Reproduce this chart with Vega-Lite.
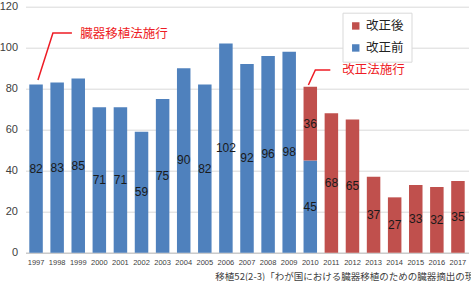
{
  "$schema": "https://vega.github.io/schema/vega-lite/v6.json",
  "width": 443,
  "height": 246,
  "autosize": {"type": "none"},
  "padding": {"left": 25.5, "top": 6.7, "right": 2.5, "bottom": 28.3},
  "config": {
    "view": {"stroke": null},
    "font": "Liberation Sans"
  },
  "resolve": {"scale": {"x": "independent"}, "axis": {"x": "independent"}},
  "datasets": {
    "bars": [
      {"year": 1997, "type": "改正前", "v": 82},
      {"year": 1998, "type": "改正前", "v": 83},
      {"year": 1999, "type": "改正前", "v": 85},
      {"year": 2000, "type": "改正前", "v": 71},
      {"year": 2001, "type": "改正前", "v": 71},
      {"year": 2002, "type": "改正前", "v": 59},
      {"year": 2003, "type": "改正前", "v": 75},
      {"year": 2004, "type": "改正前", "v": 90},
      {"year": 2005, "type": "改正前", "v": 82},
      {"year": 2006, "type": "改正前", "v": 102},
      {"year": 2007, "type": "改正前", "v": 92},
      {"year": 2008, "type": "改正前", "v": 96},
      {"year": 2009, "type": "改正前", "v": 98},
      {"year": 2010, "type": "改正前", "v": 45},
      {"year": 2010, "type": "改正後", "v": 36},
      {"year": 2011, "type": "改正後", "v": 68},
      {"year": 2012, "type": "改正後", "v": 65},
      {"year": 2013, "type": "改正後", "v": 37},
      {"year": 2014, "type": "改正後", "v": 27},
      {"year": 2015, "type": "改正後", "v": 33},
      {"year": 2016, "type": "改正後", "v": 32},
      {"year": 2017, "type": "改正後", "v": 35}
    ],
    "lines": [
      {"g": "a", "year": 1997.09, "val": 84.2},
      {"g": "a", "year": 1997.8, "val": 107.2},
      {"g": "a", "year": 1998.7, "val": 107.2},
      {"g": "b", "year": 2009.91, "val": 81.8},
      {"g": "b", "year": 2010.24, "val": 89.1},
      {"g": "b", "year": 2010.95, "val": 89.1}
    ],
    "notes": [
      {"year": 1999.09, "val": 106.9, "label": "臓器移植法施行"},
      {"year": 2011.52, "val": 89.1, "label": "改正法施行"}
    ],
    "source": [
      {"year": 2005.5, "val": -9.2, "label": "移植52(2-3)「わが国における臓器移植のための臓器摘出の現状と実績(2017)」"}
    ]
  },
  "layer": [
    {
      "data": {"name": "bars"},
      "transform": [
        {"stack": "v", "groupby": ["year"], "sort": [{"field": "type", "order": "ascending"}], "as": ["v0", "v1"]}
      ],
      "mark": {"type": "bar"},
      "encoding": {
        "x": {
          "field": "year", "type": "ordinal",
          "scale": {"paddingInner": 0.36, "paddingOuter": 0.18},
          "axis": {
            "title": null, "labelAngle": 0, "grid": false, "ticks": false, "domainColor": "#bfbfbf",
            "labelFontSize": 7.5, "labelColor": "#404040", "labelPadding": 6, "labelOverlap": false
          }
        },
        "y": {
          "field": "v0", "type": "quantitative",
          "scale": {"domain": [0, 120], "nice": false},
          "axis": {
            "title": null, "values": [0, 20, 40, 60, 80, 100, 120], "domain": false, "ticks": false,
            "gridColor": "#d9d9d9", "labelFontSize": 11, "labelColor": "#404040", "labelPadding": 8
          }
        },
        "y2": {"field": "v1"},
        "color": {
          "field": "type", "type": "nominal",
          "scale": {"domain": ["改正後", "改正前"], "range": ["#c0504d", "#4f81bd"]},
          "legend": {
            "title": null, "orient": "none", "legendX": 317, "legendY": 6,
            "strokeColor": "#d9d9d9", "fillColor": "#ffffff", "padding": 7, "rowPadding": 9,
            "symbolType": "square", "symbolSize": 55, "symbolStrokeWidth": 0,
            "labelFont": "Noto Sans CJK JP", "labelFontSize": 12.5, "labelColor": "#222222"
          }
        }
      }
    },
    {
      "data": {"name": "bars"},
      "transform": [
        {"stack": "v", "groupby": ["year"], "sort": [{"field": "type", "order": "ascending"}], "as": ["v0", "v1"]},
        {"calculate": "(datum.v0 + datum.v1) / 2", "as": "mid"}
      ],
      "mark": {"type": "text", "fontSize": 12, "color": "#1a1a1a", "baseline": "middle", "align": "center"},
      "encoding": {
        "x": {"field": "year", "type": "ordinal", "scale": {"paddingInner": 0.36, "paddingOuter": 0.18}, "axis": null},
        "y": {"field": "mid", "type": "quantitative"},
        "text": {"field": "v", "type": "quantitative"}
      }
    },
    {
      "data": {"name": "lines"},
      "mark": {"type": "line", "color": "#ee1c25", "strokeWidth": 1.5},
      "encoding": {
        "x": {"field": "year", "type": "quantitative", "scale": {"domain": [1996.5, 2017.5], "nice": false, "zero": false}, "axis": null},
        "y": {"field": "val", "type": "quantitative"},
        "detail": {"field": "g"}
      }
    },
    {
      "data": {"name": "notes"},
      "mark": {"type": "text", "font": "Noto Sans CJK JP", "fontSize": 12.5, "color": "#ee1c25", "align": "left", "baseline": "middle"},
      "encoding": {
        "x": {"field": "year", "type": "quantitative", "scale": {"domain": [1996.5, 2017.5], "nice": false, "zero": false}, "axis": null},
        "y": {"field": "val", "type": "quantitative"},
        "text": {"field": "label"}
      }
    },
    {
      "data": {"name": "source"},
      "mark": {"type": "text", "font": "Noto Sans CJK JP", "fontSize": 9.5, "color": "#404040", "align": "left", "baseline": "top"},
      "encoding": {
        "x": {"field": "year", "type": "quantitative", "scale": {"domain": [1996.5, 2017.5], "nice": false, "zero": false}, "axis": null},
        "y": {"field": "val", "type": "quantitative"},
        "text": {"field": "label"}
      }
    }
  ]
}
